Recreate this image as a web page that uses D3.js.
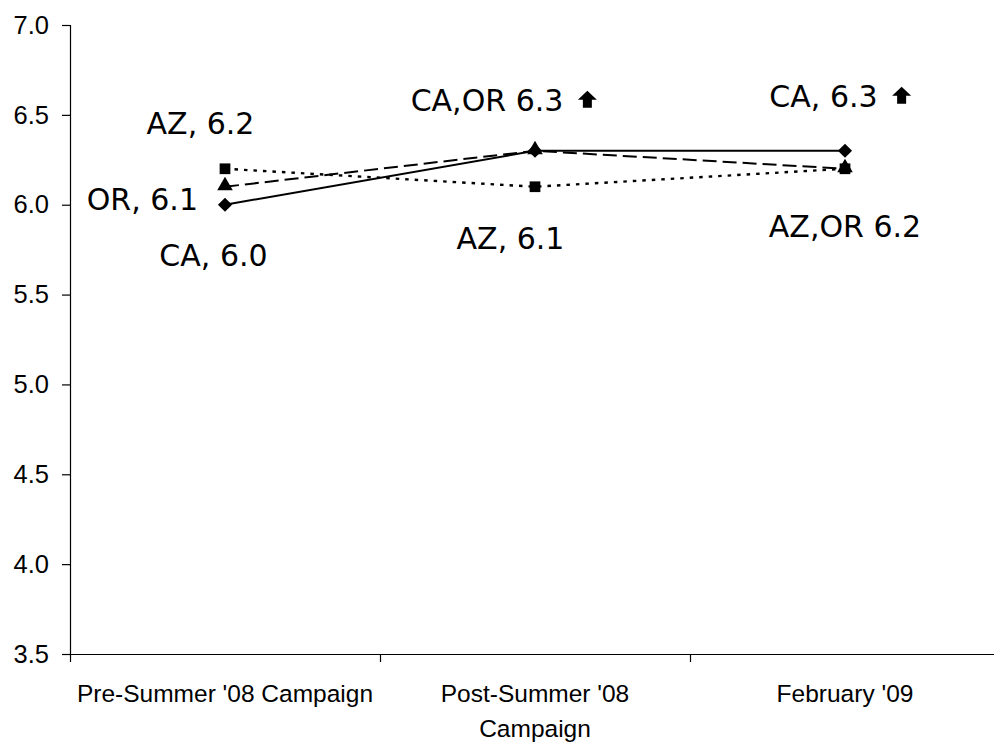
<!DOCTYPE html>
<html>
<head>
<meta charset="utf-8">
<script src="https://cdn.jsdelivr.net/npm/d3@7"></script>
<style>
  html, body { margin: 0; padding: 0; background: #fff; }
  svg { display: block; }
</style>
</head>
<body>
<script>
// ---- data ----
const categories = ["Pre-Summer '08 Campaign", "Post-Summer '08 Campaign", "February '09"];
const categoryLines = [["Pre-Summer '08 Campaign"], ["Post-Summer '08", "Campaign"], ["February '09"]];
const seriesNames = ["CA", "OR", "AZ"];
const caValues = [6.0, 6.3, 6.3];
const orValues = [6.1, 6.3, 6.2];
const azValues = [6.2, 6.1, 6.2];
const yTicks = [3.5, 4.0, 4.5, 5.0, 5.5, 6.0, 6.5, 7.0];
const yDomain = [3.5, 7.0];

// data labels: text, category index, value they refer to, arrow flag
const labelTexts = ["AZ, 6.2", "OR, 6.1", "CA, 6.0", "CA,OR 6.3", "AZ, 6.1", "CA, 6.3", "AZ,OR 6.2"];
const labelCats  = [0, 0, 0, 1, 1, 2, 2];
const labelVals  = [6.2, 6.1, 6.0, 6.3, 6.1, 6.3, 6.2];
const labelArrow = [false, false, false, true, false, true, false];

// ---- layout ----
const W = 994, H = 743;
const mLeft = 70, mRight = 1000, mTop = 25, mBottom = 654;
const labelFont = "'DejaVu Sans', sans-serif";
const axisFont = "'Liberation Sans', Arial, sans-serif";

const svg = d3.select("body").append("svg").attr("width", W).attr("height", H);

const x = d3.scaleBand().domain(categories).range([mLeft, mRight]).paddingInner(0).paddingOuter(0);
const y = d3.scaleLinear().domain(yDomain).range([mBottom, mTop]);
const cx = (i) => x(categories[i]) + x.bandwidth() / 2;

// y axis
const yAxis = svg.append("g").attr("transform", `translate(${mLeft},0)`)
  .call(d3.axisLeft(y).tickValues(yTicks).tickFormat(d3.format(".1f")).tickSize(8).tickPadding(13));
yAxis.select(".domain").attr("stroke", "#000").attr("stroke-width", 1.2).attr("d", `M0.5,${mTop}V${mBottom}`);
yAxis.selectAll(".tick line").attr("stroke", "#000").attr("stroke-width", 1.2);
yAxis.selectAll(".tick text").attr("font-family", axisFont).attr("font-size", 25.5).attr("fill", "#000");

// x axis
const xAxis = svg.append("g").attr("transform", `translate(0,${mBottom})`)
  .call(d3.axisBottom(x).tickSize(0).tickFormat(""));
xAxis.select(".domain").attr("stroke", "#000").attr("stroke-width", 1.2).attr("d", `M${mLeft},0.5H${mRight}`);
// category boundary ticks
const bounds = categories.map(c => x(c)).concat([mRight]);
svg.append("g").selectAll("line").data(bounds).join("line")
  .attr("x1", d => d + 0.5).attr("x2", d => d + 0.5)
  .attr("y1", mBottom).attr("y2", mBottom + 8)
  .attr("stroke", "#000").attr("stroke-width", 1.2);
// category labels
const xl = svg.append("g");
categoryLines.forEach((lines, i) => {
  const t = xl.append("text")
    .attr("x", cx(i)).attr("y", 702)
    .attr("text-anchor", "middle")
    .attr("font-family", axisFont).attr("font-size", 24.5).attr("fill", "#000");
  lines.forEach((ln, j) => {
    t.append("tspan").attr("x", cx(i)).attr("dy", j === 0 ? 0 : 35).text(ln);
  });
});

// series (drawn in this order: CA, OR, AZ)
const series = [
  { name: seriesNames[0], values: caValues, dash: null, width: 2, symbol: "diamond" },
  { name: seriesNames[1], values: orValues, dash: "14,6", width: 2, symbol: "triangle" },
  { name: seriesNames[2], values: azValues, dash: "3.5,6", width: 2.4, symbol: "square" }
];

const line = d3.line().x((d, i) => cx(i)).y(d => y(d));

series.forEach(s => {
  svg.append("path")
    .datum(s.values)
    .attr("d", line)
    .attr("fill", "none")
    .attr("stroke", "#000")
    .attr("stroke-width", s.width)
    .attr("stroke-dasharray", s.dash);
});

series.forEach(s => {
  let sym, rot = 0, dy = 0;
  if (s.symbol === "square") { sym = d3.symbol(d3.symbolSquare, 115); }
  else if (s.symbol === "triangle") { sym = d3.symbol(d3.symbolTriangle, 105); dy = -1; }
  else { sym = d3.symbol(d3.symbolSquare, 100); rot = 45; }
  svg.append("g").selectAll("path").data(s.values).join("path")
    .attr("d", sym)
    .attr("transform", (d, i) => `translate(${cx(i)},${y(d) + dy}) rotate(${rot})`)
    .attr("fill", "#000");
});

// data labels (offsets from their point)
const labelDx = [-24.5, -27, -11.5, -48, -24.5, -21.5, 0];
const labelDy = [-35, 23, 61, -40, 62, -44, 68];
const labelAnchor = ["middle", "end", "middle", "middle", "middle", "middle", "middle"];
const lg = svg.append("g");
labelTexts.forEach((t, i) => {
  const px = cx(labelCats[i]) + labelDx[i];
  const py = y(labelVals[i]) + labelDy[i];
  const txt = lg.append("text")
    .attr("x", px).attr("y", py)
    .attr("text-anchor", labelAnchor[i])
    .attr("font-family", labelFont).attr("font-size", 30).attr("fill", "#000")
    .text(t);
  if (labelArrow[i]) {
    const bb = txt.node().getBBox();
    const ax = bb.x + bb.width + 24;
    const ay = py - 3;
    const p = d3.path();
    p.moveTo(ax, ay - 17);
    p.lineTo(ax + 9.5, ay - 8);
    p.lineTo(ax + 4.5, ay - 8);
    p.lineTo(ax + 4.5, ay);
    p.lineTo(ax - 4.5, ay);
    p.lineTo(ax - 4.5, ay - 8);
    p.lineTo(ax - 9.5, ay - 8);
    p.closePath();
    lg.append("path").attr("d", p.toString()).attr("fill", "#000");
  }
});
</script>
</body>
</html>
